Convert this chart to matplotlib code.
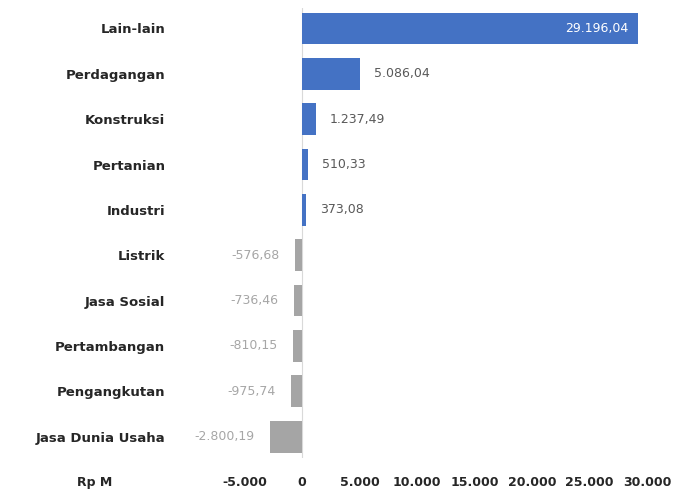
import matplotlib.pyplot as plt

categories = ['Lain-lain', 'Perdagangan', 'Konstruksi', 'Pertanian', 'Industri',
              'Listrik', 'Jasa Sosial', 'Pertambangan', 'Pengangkutan', 'Jasa Dunia Usaha']
values = [29196.04, 5086.04, 1237.49, 510.33, 373.08,
          -576.68, -736.46, -810.15, -975.74, -2800.19]
xticks = [-5000, 0, 5000, 10000, 15000, 20000, 25000, 30000]
unit_label = 'Rp M'

BLUE = '#4472C4'
GRAY = '#A5A5A5'


def fmt_id(v, decimals=2):
    # Indonesian style: '.' for thousands, ',' for decimals
    s = f'{v:,.{decimals}f}'
    return s.replace(',', '#').replace('.', ',').replace('#', '.')


plt.rcParams['font.family'] = ['DejaVu Sans']

fig = plt.figure(figsize=(6.76, 4.9), dpi=100)
W, H = 676, 490
left, right, top, bottom = 175, 665, 8, 458
ax = fig.add_axes([left / W, 1 - bottom / H, (right - left) / W, (bottom - top) / H])

pos = list(range(len(categories)))
colors = [BLUE if v >= 0 else GRAY for v in values]
ax.barh(pos, values, height=0.7, color=colors)

ax.set_xlim(-11043, 31565)
ax.set_ylim(9.47, -0.45)
ax.axvline(0, color='#D9D9D9', lw=0.8, zorder=0)

for i, v in enumerate(values):
    label = fmt_id(v)
    if i == 0:
        ax.annotate(label, (v, i), xytext=(-7, 0), textcoords='offset points',
                    ha='right', va='center', fontsize=9, color='white')
    elif v >= 0:
        ax.annotate(label, (v, i), xytext=(10, 0), textcoords='offset points',
                    ha='left', va='center', fontsize=9, color='#595959')
    else:
        ax.annotate(label, (v, i), xytext=(-11, 0), textcoords='offset points',
                    ha='right', va='center', fontsize=9, color='#A6A6A6')

ax.set_yticks(pos)
ax.set_yticklabels(categories, fontsize=9.5, fontweight='bold', color='#262626')
ax.set_xticks(xticks)
ax.set_xticklabels([fmt_id(t, 0) for t in xticks], fontsize=9,
                   fontweight='bold', color='#262626')
ax.tick_params(axis='both', length=0)
ax.tick_params(axis='y', pad=7)
ax.tick_params(axis='x', pad=13)
for s in ax.spines.values():
    s.set_visible(False)

fig.text(95 / W, 1 - 482 / H, unit_label, ha='center', va='center',
         fontsize=9, fontweight='bold', color='#262626')

fig.savefig('out.png', dpi=100)
